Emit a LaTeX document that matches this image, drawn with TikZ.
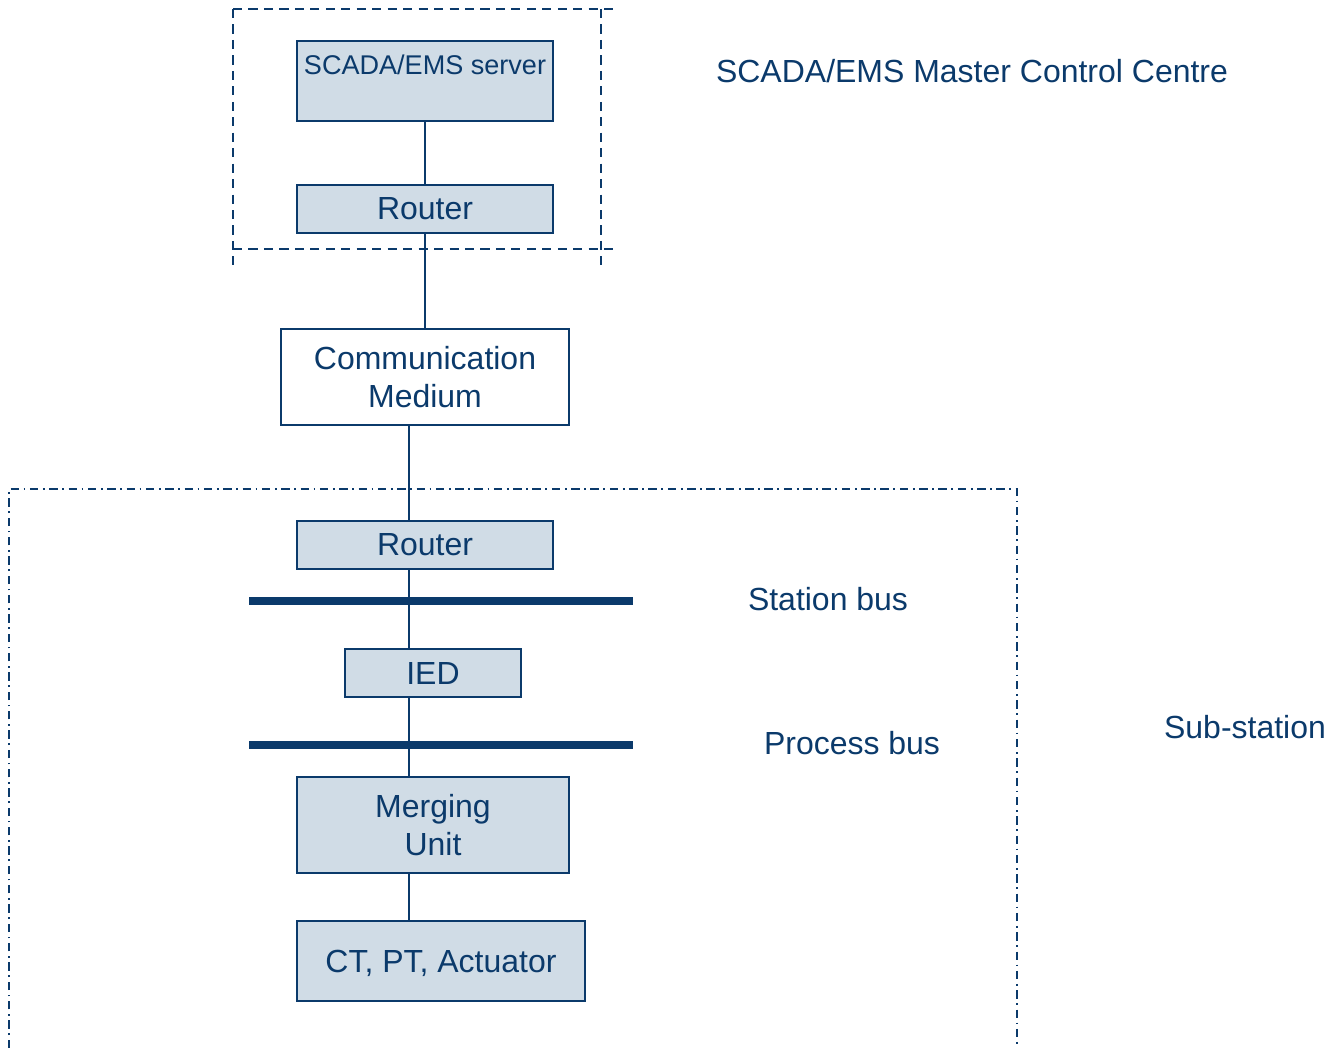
\documentclass[tikz,border=0pt]{standalone}
\usepackage{fontspec}
\setmainfont{Liberation Sans}
\definecolor{navy}{HTML}{0B3A6B}
\definecolor{boxfill}{HTML}{D0DCE6}

\begin{document}
\begin{tikzpicture}[x=0.1mm,y=-0.1mm,
		font=\fontsize{9.1}{10.8}\selectfont,text=navy,
		unit/.style={draw=navy,line width=0.7pt,fill=boxfill,inner sep=0pt,align=center},
		link/.style={draw=navy,line width=0.6pt},
		bus/.style={draw=navy,line width=2.3pt},
		ctrlzone/.style={draw=navy,line width=0.65pt,dash pattern=on 2.6pt off 1.8pt},
		sitezone/.style={draw=navy,line width=0.55pt,dash pattern=on 2.4pt off 1.3pt on 0.5pt off 1.3pt}]
		\useasboundingbox (0,0) rectangle (1330,1048);
		
		% the common vertical line runs at this x
		\coordinate (trunk) at (409,0);
		
		% the boxes
		\node[unit,minimum width=25.6mm,text height=3.4mm,text depth=4.6mm,font=\fontsize{7.7}{9}\selectfont] (server) at (425,81) {SCADA/EMS server};
		\node[unit,minimum width=25.6mm,minimum height=4.8mm] (router1) at (425,209) {Router};
		\node[unit,fill=white,minimum width=28.8mm,minimum height=9.6mm] (comm) at (425,377) {Communication\\Medium};
		\node[unit,minimum width=25.6mm,minimum height=4.8mm] (router2) at (425,545) {Router};
		\node[unit,minimum width=17.6mm,minimum height=4.8mm] (ied) at (433,673) {IED};
		\node[unit,minimum width=27.2mm,minimum height=9.6mm] (mu) at (433,825) {Merging\\Unit};
		\node[unit,minimum width=28.8mm,minimum height=8mm,text depth=0pt] (ct) at (441,961) {CT, PT, Actuator};
		
		% the links between them
		\draw[link] (server) -- (router1);
		\draw[link] (router1) -- (comm);
		\draw[link] (comm.south -| trunk) -- (router2.north -| trunk);
		\draw[link] (router2.south -| trunk) -- (ied.north -| trunk);
		\draw[link] (ied.south -| trunk) -- (mu.north -| trunk);
		\draw[link] (mu.south -| trunk) -- (ct.north -| trunk);
		
		% station bus and process bus
		\coordinate (sbus) at (249,601);
		\coordinate (pbus) at (249,745);
		\draw[bus] (sbus) -- ++(384,0);
		\draw[bus] (pbus) -- ++(384,0);
		
		% the control centre frame (lines run past the corners)
		\draw[ctrlzone] (233,9) -- (619,9);
		\draw[ctrlzone] (233,249) -- (619,249);
		\draw[ctrlzone] (233,9) -- (233,265);
		\draw[ctrlzone] (601,9) -- (601,265);
		
		% the sub-station frame, open at the bottom
		\draw[sitezone] (9,1048) -- (9,489) -- (1017,489) -- (1017,1048);
		
		% labels
		\node (centre label) at (972,71) {SCADA/EMS Master Control Centre};
		\node (sbus label) at (828,599) {Station bus};
		\node (pbus label) at (852,743) {Process bus};
		\node (site label) at (1245,727) {Sub-station};
	\end{tikzpicture}
\end{document}
